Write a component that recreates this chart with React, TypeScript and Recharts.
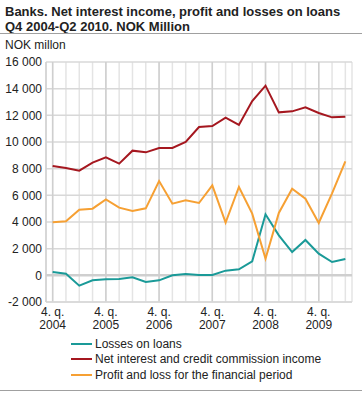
import React from 'react';
import { LineChart, Line, XAxis, YAxis, CartesianGrid, ReferenceLine } from 'recharts';

const categories = [
  '4. q. 2004', '1. q. 2005', '2. q. 2005', '3. q. 2005', '4. q. 2005',
  '1. q. 2006', '2. q. 2006', '3. q. 2006', '4. q. 2006',
  '1. q. 2007', '2. q. 2007', '3. q. 2007', '4. q. 2007',
  '1. q. 2008', '2. q. 2008', '3. q. 2008', '4. q. 2008',
  '1. q. 2009', '2. q. 2009', '3. q. 2009', '4. q. 2009',
  '1. q. 2010', '2. q. 2010',
];
const losses = [250, 125, -775, -375, -300, -275, -150, -500, -375, 0, 100, 25, 25, 350, 450, 1050, 4575, 3000, 1750, 2650, 1625, 1000, 1225];
const netInterest = [8200, 8050, 7850, 8450, 8850, 8375, 9350, 9225, 9550, 9550, 10000, 11125, 11200, 11825, 11275, 13075, 14225, 12225, 12300, 12600, 12175, 11850, 11900];
const profit = [3975, 4050, 4925, 5000, 5700, 5075, 4825, 5025, 7075, 5375, 5625, 5425, 6750, 3950, 6625, 4625, 1250, 4675, 6500, 5750, 3925, 6150, 8550];
const yTicks = [-2000, 0, 2000, 4000, 6000, 8000, 10000, 12000, 14000, 16000];
const titleLines = ['Banks. Net interest income, profit and losses on loans', 'Q4 2004-Q2 2010. NOK Million'];
const unitLabel = 'NOK millon';
const seriesNames = ['Losses on loans', 'Net interest and credit commission income', 'Profit and loss for the financial period'];
const seriesColors = ['#1a9a98', '#a5171f', '#f6a033'];

const data = categories.map((c, i) => ({
  cat: c,
  losses: losses[i],
  netInterest: netInterest[i],
  profit: profit[i],
}));
const yearCats = categories.filter((c) => c.startsWith('4.'));

const FONT = '"Liberation Sans", Arial, sans-serif';

const fmt = (v: number) => {
  const s = Math.abs(v).toString().replace(/\B(?=(\d{3})+(?!\d))/g, ' ');
  return (v < 0 ? '-' : '') + s;
};

const XTick = (props: any) => {
  const { x, y, payload } = props;
  const v: string = payload.value;
  if (!v.startsWith('4.')) return null;
  const parts = v.split(' ');
  return (
    <text x={x} y={y} textAnchor="middle" fill="#222" fontSize={12} fontFamily={FONT}>
      <tspan x={x} dy={14}>{parts[0] + ' ' + parts[1]}</tspan>
      <tspan x={x} dy={13}>{parts[2]}</tspan>
    </text>
  );
};

const keys = ['losses', 'netInterest', 'profit'];

export default function App() {
  return (
    <div style={{ position: 'relative', width: 362, height: 393, fontFamily: FONT, color: '#222', background: '#fff', overflow: 'hidden' }}>
      <style>{'body{margin:0}'}</style>
      <div style={{ position: 'absolute', left: 5, top: 4, fontWeight: 'bold', fontSize: 13, lineHeight: '15px', whiteSpace: 'nowrap' }}>
        <div>{titleLines[0]}</div>
        <div>{titleLines[1]}</div>
      </div>
      <div style={{ position: 'absolute', left: 0, top: 33, width: 362, height: 1, background: '#a0a0a0' }} />
      <div style={{ position: 'absolute', left: 5, top: 38, fontSize: 12, lineHeight: '14px' }}>{unitLabel}</div>
      <div style={{ position: 'absolute', left: 0, top: 0 }}>
        <LineChart width={362} height={393} data={data} margin={{ top: 62, right: 10, bottom: 61, left: 0 }}>
          <CartesianGrid stroke="#e4e4e4" strokeWidth={1.5} horizontal={false} />
          <CartesianGrid stroke="#d8d8d8" strokeWidth={1.5} vertical={false} />
          {yearCats.map((c) => (
            <ReferenceLine key={c} x={c} stroke="#cfcfcf" strokeWidth={1.5} />
          ))}
          <ReferenceLine y={0} stroke="#cfcfcf" strokeWidth={2.5} />
          <XAxis
            dataKey="cat"
            interval={0}
            height={30}
            padding={{ left: 6.65, right: 6.65 }}
            tickLine={false}
            tickSize={0}
            tickMargin={0}
            axisLine={{ stroke: '#d8d8d8', strokeWidth: 1.5 }}
            tick={<XTick />}
          />
          <YAxis
            width={46}
            domain={[-2000, 16000]}
            ticks={yTicks}
            interval={0}
            tickLine={false}
            tickSize={0}
            tickMargin={4}
            axisLine={{ stroke: '#d0d0d0', strokeWidth: 1.5 }}
            tickFormatter={fmt}
            tick={{ fill: '#222', fontSize: 12, fontFamily: FONT }}
          />
          {keys.map((k, i) => (
            <Line
              key={k}
              type="linear"
              dataKey={k}
              name={seriesNames[i]}
              stroke={seriesColors[i]}
              strokeWidth={2}
              dot={false}
              activeDot={false}
              isAnimationActive={false}
            />
          ))}
        </LineChart>
      </div>
      {seriesNames.map((n, i) => (
        <div key={n} style={{ position: 'absolute', left: 71, top: 336 + i * 15.5, height: 15, display: 'flex', alignItems: 'center', fontSize: 12, whiteSpace: 'nowrap' }}>
          <div style={{ width: 21, height: 2, background: seriesColors[i], marginRight: 3 }} />
          <span>{n}</span>
        </div>
      ))}
      <div style={{ position: 'absolute', left: 0, top: 390, width: 362, height: 1, background: '#a0a0a0' }} />
    </div>
  );
}
